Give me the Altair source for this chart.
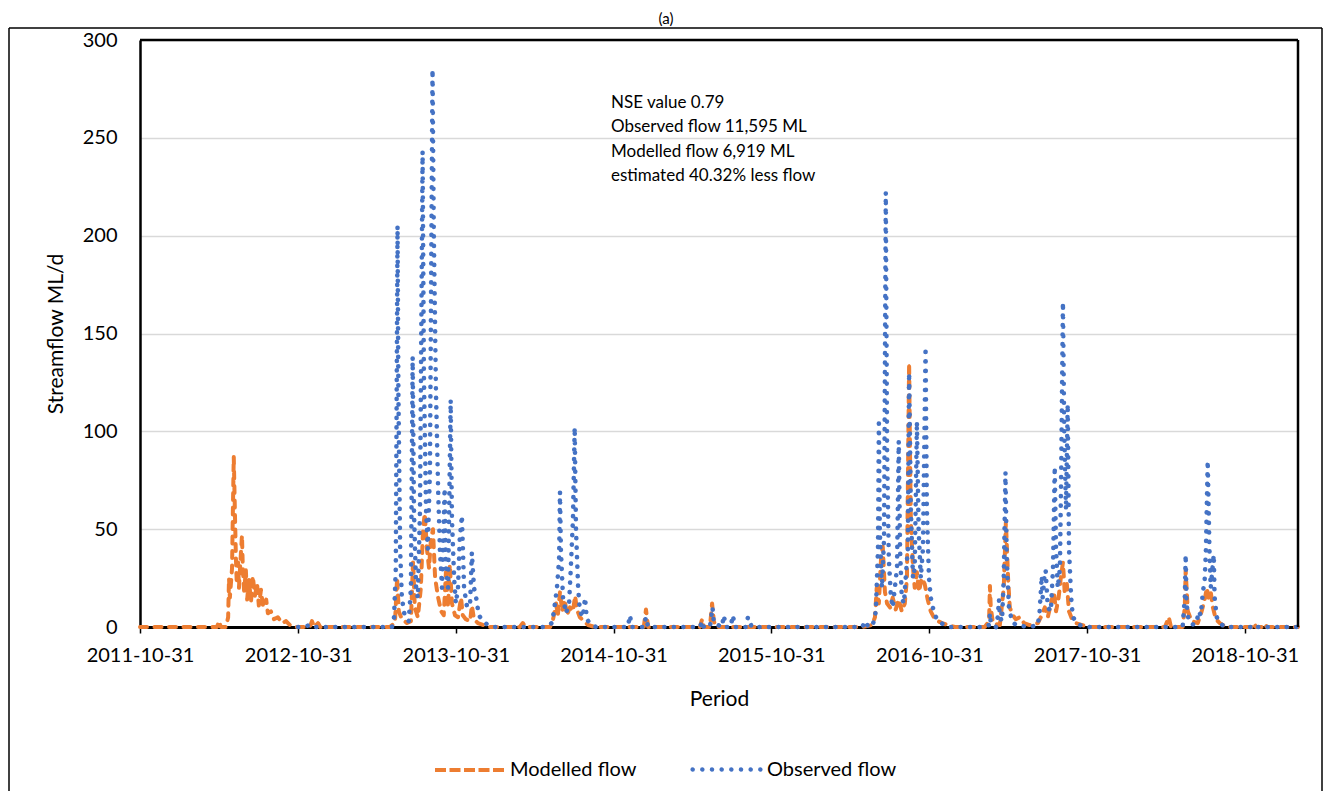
import altair as alt
import pandas as pd

# ---- data (day offsets from 2011-10-31, ML/d) ----
BASE = "2011-10-31"

mod_days = (
    [0, 178, 183, 187, 199]
    + [204, 206, 208, 213, 215, 217, 220, 222, 224, 227, 229, 231, 236, 238, 241, 245, 248, 252, 257, 261,
       266, 271, 275, 280, 285, 292, 296, 303, 310, 319, 329, 338, 347, 359]
    + [393, 398, 403, 412, 417]
    + [578, 590, 595, 599, 606, 618, 627, 632, 636, 643, 650, 655, 659, 664, 669, 673, 678, 683, 690, 697,
       703, 708, 713, 717, 722, 729, 736, 743, 747, 754, 764, 768, 773, 782, 794, 810]
    + [879, 886, 893]
    + [949, 956, 963, 967, 972, 977, 983, 988, 995, 1002, 1007, 1011, 1018, 1027, 1037, 1053]
    + [1166, 1171, 1176, 1296, 1301, 1305, 1319, 1324, 1328, 1333]
    + [1671, 1694, 1701, 1705, 1710, 1715, 1719, 1724, 1729, 1736, 1742, 1749, 1756, 1763, 1770, 1775,
       1780, 1782, 1784, 1789, 1793, 1798, 1803, 1809, 1816, 1823, 1830, 1837, 1847, 1856, 1870, 1886]
    + [1955, 1965, 1967, 1969, 1974, 1990, 1999, 2004, 2009, 2013, 2020, 2027, 2036, 2046, 2059, 2078,
       2087, 2094, 2101, 2108, 2115, 2120, 2126, 2131, 2136, 2140, 2145, 2150, 2157, 2166, 2180, 2198]
    + [2372, 2381, 2386, 2413, 2418, 2420, 2425, 2434, 2448, 2457, 2464, 2469, 2473, 2478, 2483, 2490,
       2499, 2513, 2573, 2578, 2583, 2599, 2603, 2608, 2680]
)
mod_vals = (
    [0, 0, 3, 0, 0]
    + [5, 25, 15, 30, 60, 87, 55, 35, 22, 33, 20, 28, 47, 30, 18, 29, 14, 24, 13, 26,
       16, 22, 11, 19, 10, 14, 7, 8, 4, 5, 2, 3, 1, 0]
    + [0, 3, 0, 2, 0]
    + [0, 2, 25, 8, 4, 2, 3, 34, 10, 5, 20, 50, 58, 40, 30, 44, 50, 25, 15, 8,
       6, 28, 10, 32, 12, 6, 5, 15, 6, 4, 3, 11, 4, 2, 1, 0]
    + [0, 2, 0]
    + [0, 4, 12, 6, 18, 8, 14, 6, 10, 8, 16, 9, 5, 3, 1, 0]
    + [0, 9, 0, 0, 4, 0, 0, 12, 3, 0]
    + [0, 1, 5, 20, 12, 35, 41, 18, 12, 10, 15, 9, 14, 8, 12, 25,
       135, 90, 55, 30, 20, 28, 18, 25, 22, 14, 8, 5, 3, 2, 1, 0]
    + [0, 3, 21, 10, 2, 1, 20, 54, 25, 10, 6, 4, 5, 2, 1, 2,
       6, 10, 5, 12, 18, 8, 15, 25, 33, 18, 22, 8, 4, 2, 1, 0]
    + [0, 5, 0, 0, 10, 29, 8, 3, 2, 8, 14, 20, 15, 18, 10, 4,
       2, 0, 0, 2, 0, 0, 1.5, 0, 0]
)

obs_days = (
    [366, 398, 403, 583]
    + [588, 592, 596, 598, 602, 606, 613, 622, 627, 631, 634, 639, 643, 648, 654, 657, 662, 666, 671, 677,
       680, 685, 690, 694, 699, 705, 708, 713, 719, 722, 727, 731, 736, 740, 745, 750, 757, 764, 768, 773,
       778, 784, 794, 805, 821]
    + [937, 953, 958, 965, 970, 972, 974, 979, 986, 993, 997, 1002, 1006, 1009, 1014, 1018, 1025, 1030,
       1034, 1041, 1055]
    + [1129, 1134, 1138, 1166, 1171, 1176, 1296, 1301, 1305, 1319, 1325, 1328, 1347, 1351, 1356, 1367,
       1372, 1377, 1402, 1407, 1412, 1416]
    + [1671, 1680, 1685, 1696, 1703, 1708, 1710, 1712, 1717, 1722, 1726, 1729, 1733, 1738, 1742, 1747,
       1752, 1756, 1759, 1763, 1768, 1772, 1777, 1780, 1784, 1789, 1793, 1798, 1802, 1807, 1812, 1818,
       1821, 1826, 1830, 1837, 1844, 1854, 1863, 1874]
    + [1955, 1965, 1967, 1969, 1981, 1985, 1988, 1990, 1995, 1999, 2003, 2006, 2011, 2018, 2027, 2059,
       2078, 2082, 2087, 2089, 2094, 2096, 2101, 2108, 2113, 2117, 2120, 2124, 2129, 2132, 2136, 2139,
       2143, 2147, 2150, 2155, 2159, 2166, 2175, 2198]
    + [2413, 2418, 2420, 2422, 2427, 2439, 2446, 2450, 2455, 2460, 2464, 2467, 2471, 2475, 2478, 2485,
       2487, 2492, 2499, 2511, 2573, 2578, 2583, 2680]
)
obs_vals = (
    [0, 1, 0, 0]
    + [5, 30, 205, 120, 40, 15, 5, 3, 20, 138, 60, 20, 15, 60, 243, 130, 60, 40, 80, 285,
       200, 120, 70, 40, 20, 71, 30, 20, 116, 55, 25, 12, 20, 45, 57, 20, 10, 12, 38, 20,
       15, 6, 3, 1, 0]
    + [0, 2, 8, 20, 35, 69, 40, 15, 7, 12, 30, 55, 102, 50, 20, 8, 5, 15, 4, 2, 0]
    + [0, 6, 0, 0, 5, 0, 0, 3, 0, 0, 10, 2, 0, 6, 0, 0, 6, 0, 0, 5, 2, 0]
    + [0, 3, 0, 1, 8, 40, 104, 50, 20, 45, 222, 90, 35, 15, 10, 20,
       30, 95, 40, 15, 12, 25, 40, 130, 60, 25, 30, 105, 50, 25, 40, 143,
       60, 25, 15, 8, 4, 2, 1, 0]
    + [0, 1, 7, 2, 0, 5, 14, 5, 3, 25, 79, 35, 10, 3, 1, 0,
       1, 8, 26, 15, 28, 29, 10, 8, 30, 82, 40, 20, 30, 80, 166, 100,
       60, 114, 40, 15, 5, 3, 1, 0]
    + [0, 15, 37, 12, 3, 1, 3, 8, 6, 18, 24, 40, 85, 40, 20, 37,
       15, 5, 2, 0, 0, 1, 0, 0]
)

MOD_NAME = "Modelled flow"
OBS_NAME = "Observed flow"
MOD_COLOR = "#ED7D31"
OBS_COLOR = "#4472C4"
year_ticks = [2011, 2012, 2013, 2014, 2015, 2016, 2017, 2018]
y_ticks = [0, 50, 100, 150, 200, 250, 300]
note_lines = ["NSE value 0.79", "Observed flow 11,595 ML", "Modelled flow 6,919 ML", "estimated 40.32% less flow"]
note_day = 1090
note_val = 268

base = pd.Timestamp(BASE)


def to_dates(days):
    return [(base + pd.Timedelta(days=d)).strftime("%Y-%m-%d") for d in days]


df_mod = pd.DataFrame({"date": to_dates(mod_days), "flow": mod_vals, "series": MOD_NAME, "style": "dash"})
df_obs = pd.DataFrame({"date": to_dates(obs_days), "flow": obs_vals, "series": OBS_NAME, "style": "dot"})

FONT = "Lato"
W, H = 1158, 587

x_scale = alt.Scale(type="utc", domain=[alt.DateTime(year=2011, month=10, date=31, utc=True),
                                        alt.DateTime(year=2019, month=3, date=3, utc=True)])
y_scale = alt.Scale(domain=[0, 300], nice=False)

x_enc = alt.X("date:T", scale=x_scale, axis=alt.Axis(
    values=[alt.DateTime(year=yy, month=10, date=31, utc=True) for yy in year_ticks],
    format="%Y-%m-%d", title="Period", grid=False, zindex=0,
    domain=True, domainColor="black", domainWidth=3,
    ticks=True, tickColor="black", tickWidth=1.5, tickSize=6,
    labelFont=FONT, labelFontSize=20, labelColor="black", labelPadding=12, labelFlush=False,
    titleFont=FONT, titleFontSize=21, titleFontWeight="normal", titleColor="black", titlePadding=23,
    labelOverlap=False))
y_enc = alt.Y("flow:Q", scale=y_scale, axis=alt.Axis(
    values=y_ticks, title="Streamflow ML/d", grid=True, gridColor="#d9d9d9", gridWidth=1.5,
    domain=True, domainColor="black", domainWidth=2.5, ticks=False, zindex=0,
    labelFont=FONT, labelFontSize=20, labelColor="black", labelPadding=23,
    titleFont=FONT, titleFontSize=21, titleFontWeight="normal", titleColor="black", titlePadding=16))

# legend symbol for the dotted series: a row of small round dots
dot_r = 0.03
dot_centres = [-0.94 + k * 0.2686 for k in range(8)]
dot_path = "".join(
    f"M{c - dot_r:.4f},0a{dot_r:.4f},{dot_r:.4f} 0 1,0 {2 * dot_r:.4f},0a{dot_r:.4f},{dot_r:.4f} 0 1,0 {-2 * dot_r:.4f},0"
    for c in dot_centres)

leg_common = dict(title=None, orient="none", direction="horizontal", symbolSize=5184,
                  labelFont=FONT, labelFontSize=20, labelColor="black", padding=0)
leg_mod = alt.Legend(legendX=293, legendY=692, symbolType="stroke", symbolStrokeWidth=4,
                     symbolDash=[11, 3.5], labelOffset=1, **leg_common)
leg_obs = alt.Legend(legendX=549, legendY=692, symbolType=dot_path, symbolStrokeWidth=2.4,
                     labelOffset=3, **leg_common)

mod_line = alt.Chart(df_mod).mark_line(strokeWidth=4, strokeCap="round", strokeJoin="round").encode(
    x=x_enc,
    y=y_enc,
    color=alt.Color("series:N", scale=alt.Scale(domain=[MOD_NAME], range=[MOD_COLOR]), legend=leg_mod),
    strokeDash=alt.StrokeDash("style:N", scale=alt.Scale(domain=["dash"], range=[[7, 7.5]]), legend=None),
)
obs_line = alt.Chart(df_obs).mark_line(strokeWidth=4.6, strokeCap="round", strokeJoin="round").encode(
    x=x_enc,
    y=y_enc,
    color=alt.Color("series:N", scale=alt.Scale(domain=[OBS_NAME], range=[OBS_COLOR]), legend=leg_obs),
    strokeDash=alt.StrokeDash("style:N", scale=alt.Scale(domain=["dot"], range=[[0.1, 9.4]]), legend=None),
)

note_df = pd.DataFrame({"date": to_dates([note_day]), "flow": [note_val], "txt": ["\n".join(note_lines)]})
note = alt.Chart(note_df).mark_text(align="left", baseline="middle", font=FONT, fontSize=17,
                                    lineHeight=24.5, lineBreak="\n", color="black").encode(
    x="date:T", y="flow:Q", text="txt:N")

one = pd.DataFrame({"k": [0]})
# plot-area border (top and right), drawn as rules so the data sit above the x axis line
plot_top = alt.Chart(one).mark_rule(color="black", strokeWidth=2.5).encode(
    x=alt.value(0), x2=alt.value(W), y=alt.value(0))
plot_right = alt.Chart(one).mark_rule(color="black", strokeWidth=2.5).encode(
    x=alt.value(W), y=alt.value(0), y2=alt.value(H))
# outer chart-area frame
frame_left = alt.Chart(one).mark_rule(color="black", strokeWidth=1.5).encode(
    x=alt.value(-131), y=alt.value(-12), y2=alt.value(760))
frame_top = alt.Chart(one).mark_rule(color="black", strokeWidth=1.5).encode(
    x=alt.value(-131), x2=alt.value(1182), y=alt.value(-12))
frame_right = alt.Chart(one).mark_rule(color="black", strokeWidth=1.5).encode(
    x=alt.value(1182), y=alt.value(-12), y2=alt.value(760))
title_a = alt.Chart(one).mark_text(text="(a)", font=FONT, fontSize=15, baseline="middle", align="center",
                                   color="black").encode(x=alt.value(526), y=alt.value(-21))

chart = alt.layer(mod_line, obs_line, note, plot_top, plot_right, frame_left, frame_top, frame_right,
                  title_a).resolve_scale(
    color="independent", strokeDash="independent"
).properties(
    width=W, height=H,
    autosize=alt.AutoSizeParams(type="none"),
    padding={"left": 132, "top": 32, "right": 25, "bottom": 164},
).configure_view(stroke="transparent").configure(background="white")

chart.save("out.html", embed_options={"renderer": "svg", "actions": False})
